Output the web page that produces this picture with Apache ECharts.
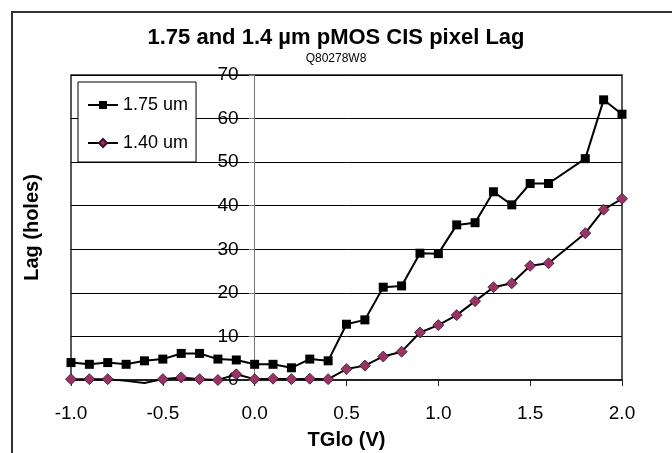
<!DOCTYPE html>
<html>
<head>
<meta charset="utf-8">
<script src="https://cdn.jsdelivr.net/npm/echarts@6/dist/echarts.min.js"></script>
<style>html,body{margin:0;padding:0;background:#fff}#c{width:672px;height:453px}</style>
</head>
<body>
<div id="c"></div>
<script>
// TGlo (V) sample points (no measurement at 1.7 V)
const tglo = [-1.0,-0.9,-0.8,-0.7,-0.6,-0.5,-0.4,-0.3,-0.2,-0.1,0.0,0.1,0.2,0.3,0.4,0.5,0.6,0.7,0.8,0.9,1.0,1.1,1.2,1.3,1.4,1.5,1.6,1.8,1.9,2.0];
const lag175 = [4.0,3.6,4.0,3.6,4.4,4.8,6.1,6.1,4.8,4.6,3.6,3.6,2.8,4.8,4.4,12.8,13.8,21.3,21.6,29.1,29.0,35.6,36.1,43.2,40.2,45.1,45.1,50.8,64.3,61.0];
const lag140 = [0.2,0.2,0.2,-0.2,-0.7,0.2,0.6,0.2,0.0,1.3,0.2,0.3,0.2,0.3,0.2,2.5,3.3,5.4,6.5,10.9,12.6,14.9,18.1,21.3,22.2,26.2,26.8,33.7,39.1,41.6];
const seriesNames = ['1.75 um', '1.40 um'];
const xTicks = [-1.0, -0.5, 0.0, 0.5, 1.0, 1.5, 2.0];
const yTicks = [0, 10, 20, 30, 40, 50, 60, 70];

const FONT = 'Liberation Sans, Arial, sans-serif';
const GRID_LEFT = 71, GRID_RIGHT = 50;
const chartW = 672;
// the value axis crosses the category axis at TGlo = 0
const plotW = chartW - GRID_LEFT - GRID_RIGHT;
const yAxisShift = plotW * (0 - xTicks[0]) / (xTicks[xTicks.length - 1] - xTicks[0]);

const chart = echarts.init(document.getElementById('c'), null, {renderer: 'canvas'});

function pts(vals) {
  // points below the axis minimum keep the line but hide the marker
  return tglo.map((x, i) => {
    const v = vals[i];
    return v < 0 ? {value: [x, v], symbol: 'none'} : [x, v];
  });
}

chart.setOption({
  animation: false,
  backgroundColor: '#fff',
  textStyle: {fontFamily: FONT},
  graphic: [{
    type: 'rect', left: 11, top: 11, silent: true, z: -1,
    shape: {width: 720, height: 520},
    style: {fill: '#fff', stroke: '#333', lineWidth: 2}
  }],
  title: {
    text: '1.75 and 1.4 \u00b5m pMOS CIS pixel Lag',
    subtext: 'Q80278W8',
    left: 'center', top: 27, itemGap: 4, padding: 0,
    textStyle: {fontFamily: FONT, fontSize: 22, fontWeight: 'bold', color: '#000'},
    subtextStyle: {fontFamily: FONT, fontSize: 12, color: '#000'}
  },
  legend: {
    data: seriesNames,
    orient: 'vertical',
    left: 78, top: 82,
    padding: [14, 8, 10, 9],
    itemWidth: 30, itemHeight: 10, itemGap: 20,
    backgroundColor: '#fff', borderColor: '#000', borderWidth: 1,
    textStyle: {fontFamily: FONT, fontSize: 18, color: '#000'},
    z: 10
  },
  grid: {left: GRID_LEFT, right: GRID_RIGHT, top: 75, bottom: 73, show: true, borderColor: '#222', borderWidth: 1.5, containLabel: false, outerBoundsMode: 'none'},
  xAxis: {
    type: 'value', min: xTicks[0], max: xTicks[xTicks.length - 1], interval: 0.5,
    name: 'TGlo (V)', nameLocation: 'middle', nameGap: 50,
    nameTextStyle: {fontFamily: FONT, fontSize: 20, fontWeight: 'bold', color: '#000'},
    axisLine: {onZero: false, lineStyle: {color: '#222', width: 2}},
    axisTick: {show: true, length: 6, lineStyle: {color: '#222'}},
    axisLabel: {fontFamily: FONT, fontSize: 19, color: '#000', margin: 24, formatter: v => v.toFixed(1)},
    splitLine: {show: false}
  },
  yAxis: {
    type: 'value', min: yTicks[0], max: yTicks[yTicks.length - 1], interval: 10,
    position: 'left', offset: -yAxisShift,
    name: 'Lag (holes)', nameLocation: 'middle', nameGap: 212, nameMoveOverlap: false,
    nameTextStyle: {fontFamily: FONT, fontSize: 20, fontWeight: 'bold', color: '#000'},
    axisLine: {onZero: false, lineStyle: {color: '#777', width: 1}},
    axisTick: {show: true, length: 6, lineStyle: {color: '#777'}},
    axisLabel: {fontFamily: FONT, fontSize: 19, color: '#000', margin: 16},
    splitLine: {show: true, lineStyle: {color: '#000', width: 1}}
  },
  series: [
    {
      name: seriesNames[0], type: 'line', clip: false,
      data: pts(lag175),
      symbol: 'rect', symbolSize: 9,
      lineStyle: {color: '#000', width: 2},
      itemStyle: {color: '#000', borderColor: '#000', borderWidth: 0},
      z: 3
    },
    {
      name: seriesNames[1], type: 'line', clip: false,
      data: pts(lag140),
      symbol: 'diamond', symbolSize: 11,
      lineStyle: {color: '#000', width: 2},
      itemStyle: {color: '#993366', borderColor: '#3a1026', borderWidth: 0.8},
      z: 4
    }
  ]
});
</script>
</body>
</html>
